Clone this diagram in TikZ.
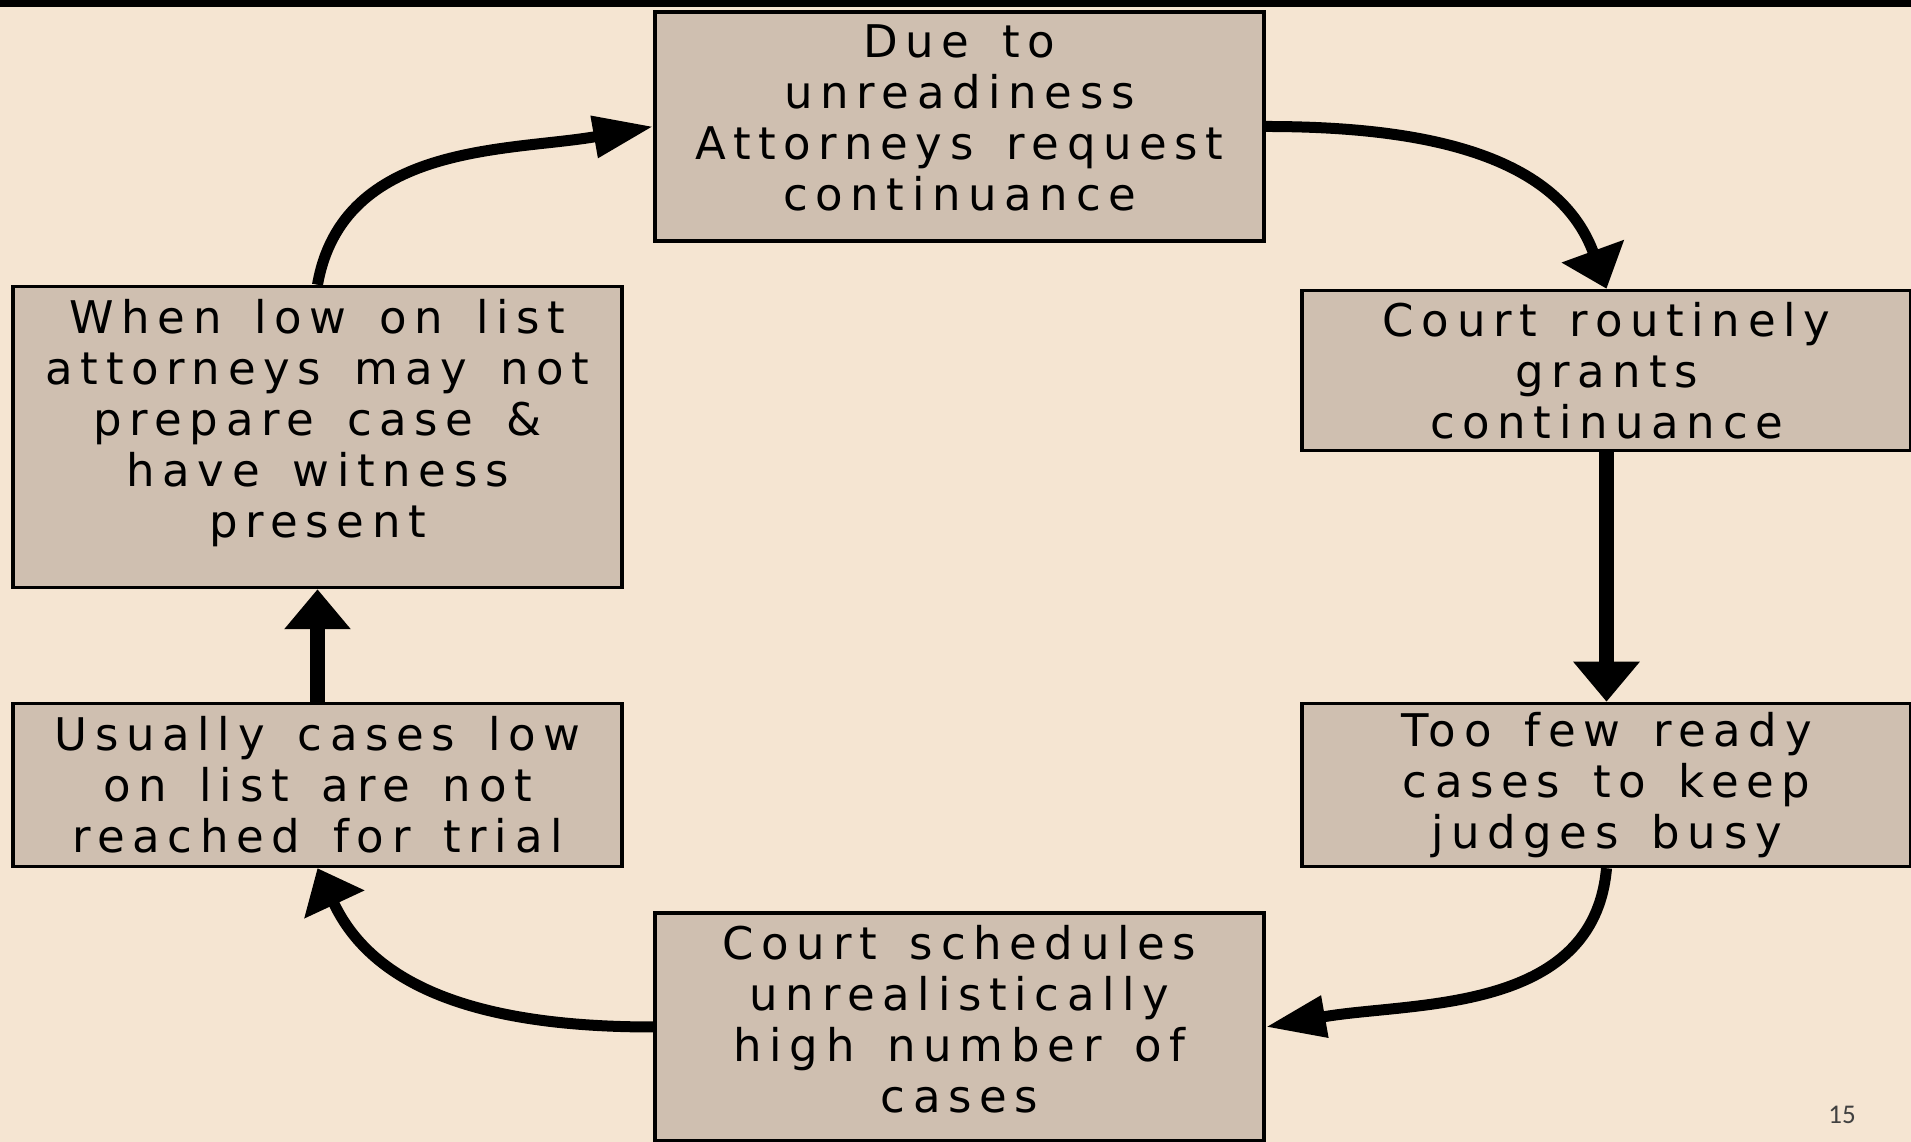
\documentclass[tikz,border=0pt]{standalone}
\usepackage{fontspec}
\usetikzlibrary{arrows.meta}
\newfontfamily\boxfont{DejaVu Sans}[LetterSpace=17]
\newfontfamily\numfont{Carlito}
\definecolor{paper}{HTML}{F5E5D2}
\definecolor{boxgray}{HTML}{CFBFB0}
\definecolor{numgray}{HTML}{404040}
\newcommand\wsp{\hspace{18pt}}

\begin{document}
\begin{tikzpicture}[x=1pt,y=1pt,
   stage/.style={draw=black,fill=boxgray,line width=3.5pt,minimum width=609pt,
     text width=590pt,align=center,inner sep=0pt,
     font={\boxfont\fontsize{45}{51}\selectfont}},
   link/.style={line width=11pt},
   bar/.style={line width=15pt},
   vhead/.tip={Triangle[width=64pt,length=40pt]},
   hhead/.tip={Triangle[width=40pt,length=60pt]}]
   \useasboundingbox (0,0) rectangle (1911,1142);
   \fill[paper] (0,0) rectangle (1911,1142);
   \fill[black] (0,1135) rectangle (1911,1142);

   \node[stage,minimum height=229pt] (due) at (959.5,1015.5)
     {Due \wsp to\\ unreadiness\\ Attorneys \wsp request\\ continuance\\[-34pt]\mbox{}};
   \node[stage,minimum height=160pt] (grants) at (1606.5,771.5)
     {Court \wsp routinely\\ grants\\ continuance};
   \node[stage,minimum height=163pt] (fewcases) at (1606.5,357)
     {Too \wsp few \wsp ready\\ cases \wsp to \wsp keep\\ judges \wsp busy};
   \node[stage,minimum height=228pt] (schedules) at (959.5,115)
     {Court \wsp schedules\\ unrealistically\\ high \wsp number \wsp of\\ cases\\[-34pt]\mbox{}};
   \node[stage,minimum height=163pt] (notreached) at (317.5,357)
     {Usually \wsp cases \wsp low\\ on \wsp list \wsp are \wsp not\\ reached \wsp for \wsp trial};
   \node[stage,minimum height=301pt] (lowlist) at (317.5,705)
     {When \wsp low \wsp on \wsp list\\ attorneys \wsp may \wsp not\\ prepare \wsp case \wsp \&\\ have \wsp witness\\ present\\[-14pt]\mbox{}};

   \draw[link,-{vhead}] (due.east) to[out=0,in=110] (grants.north);
   \draw[bar,-{vhead}] (grants.south) -- (fewcases.north);
   \draw[link,-{hhead}] (fewcases.south) to[out=-95,in=10] (schedules.east);
   \draw[link,-{vhead}] (schedules.west) to[out=180,in=-65] (notreached.south);
   \draw[bar,-{vhead}] (notreached.north) -- (lowlist.south);
   \draw[link,-{hhead}] (lowlist.north) to[out=80,in=190] (due.west);

   \node[font={\numfont\fontsize{27}{30}\selectfont},text=numgray] (page) at (1842,27) {15};
\end{tikzpicture}
\end{document}
